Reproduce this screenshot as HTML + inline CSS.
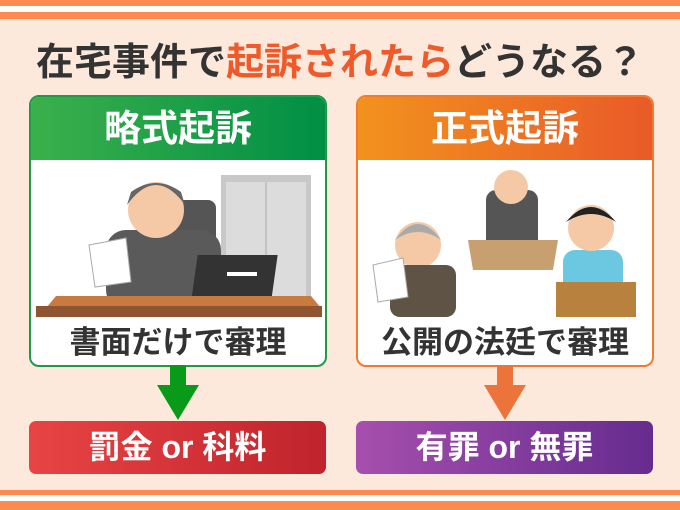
<!DOCTYPE html>
<html><head><meta charset="utf-8"><style>
body{margin:0;width:680px;height:510px;overflow:hidden;background:#fde8dc;font-family:"Liberation Sans","Noto Sans CJK JP",sans-serif;position:relative}
.a{position:absolute}
.t{font-weight:bold;text-align:center}
</style></head><body>
<div class="a" style="left:0;top:0;width:680px;height:6px;background:#ff8a50"></div>
<div class="a" style="left:0;top:12px;width:680px;height:7px;background:#ff8a50"></div>
<div class="a" style="left:0;top:6px;width:680px;height:6px;background:#fff"></div>
<div class="a" style="left:0;top:490px;width:680px;height:5px;background:#ff8a50"></div>
<div class="a" style="left:0;top:495px;width:680px;height:6px;background:#fff"></div>
<div class="a" style="left:0;top:501px;width:680px;height:9px;background:#ff8a50"></div>

<div class="a t" style="left:0;top:38px;width:680px;font-size:38px;line-height:50px;color:#333;white-space:nowrap">在宅事件で<span style="color:#ee5a2a">起訴されたら</span>どうなる？</div>

<!-- left box -->
<div class="a" style="left:29px;top:95px;width:294px;height:268px;border:2px solid #1e9a48;border-radius:10px;background:#fff;overflow:hidden">
 <div style="height:63px;background:linear-gradient(90deg,#3bb04c,#008f45);color:#fff;font-size:37px;font-weight:bold;text-align:center;line-height:63px">略式起訴</div>
 <svg width="294" height="157" style="display:block">
  <rect x="190" y="15" width="90" height="130" fill="#c8c8c8"/><rect x="195" y="22" width="80" height="115" fill="#dcdcdc"/><line x1="235" y1="22" x2="235" y2="137" stroke="#aaa"/>
  <rect x="145" y="40" width="40" height="80" rx="8" fill="#555"/>
  <rect x="75" y="70" width="115" height="80" rx="20" fill="#5a5a5a"/>
  <circle cx="125" cy="50" r="28" fill="#f5c9a5"/><path d="M96 45 Q125 5 154 45 L150 32 Q125 14 100 32Z" fill="#666"/>
  <polygon points="58,85 95,78 100,122 64,127" fill="#fff" stroke="#aaa"/>
  <rect x="180" y="95" width="80" height="50" fill="#333" transform="skewX(-8)"/><rect x="196" y="112" width="30" height="4" fill="#fff"/>
  <polygon points="15,148 290,148 280,136 25,136" fill="#c87a40"/>
  <rect x="5" y="146" width="286" height="11" fill="#8e5530"/>
 </svg>
 <div class="t" style="font-size:31px;line-height:44px;color:#333;margin-top:4px">書面だけで審理</div>
</div>
<div class="a" style="left:170px;top:365px;width:16px;height:22px;background:#0a9a1a"></div>
<div class="a" style="left:157px;top:385px;width:0;height:0;border-left:21px solid transparent;border-right:21px solid transparent;border-top:35px solid #0a9a1a"></div>
<div class="a t" style="left:29px;top:421px;width:297px;height:53px;border-radius:7px;background:linear-gradient(90deg,#e84444,#c0232d);color:#fff;font-size:32px;line-height:53px">罰金 or 科料</div>

<!-- right box -->
<div class="a" style="left:356px;top:95px;width:294px;height:268px;border:2px solid #f07a30;border-radius:10px;background:#fff;overflow:hidden">
 <div style="height:63px;background:linear-gradient(90deg,#f2921e,#e95a28);color:#fff;font-size:37px;font-weight:bold;text-align:center;line-height:63px">正式起訴</div>
 <svg width="294" height="157" style="display:block">
  <rect x="128" y="30" width="52" height="60" rx="10" fill="#555"/>
  <circle cx="153" cy="27" r="17" fill="#f5c9a5"/>
  <polygon points="110,80 200,80 195,110 115,110" fill="#c8a070"/>
  <circle cx="60" cy="85" r="23" fill="#f5c9a5"/><path d="M37 80 Q60 48 83 80 Q60 64 37 80Z" fill="#aaa"/>
  <rect x="32" y="105" width="66" height="52" rx="10" fill="#5f5346"/>
  <polygon points="15,105 45,98 50,137 20,142" fill="#fff" stroke="#aaa"/>
  <rect x="205" y="90" width="60" height="45" rx="12" fill="#6cc8e0"/>
  <circle cx="233" cy="68" r="23" fill="#f5c9a5"/><path d="M208 62 Q233 32 258 62 Q233 46 208 62Z" fill="#222"/>
  <rect x="198" y="122" width="80" height="35" fill="#b8813e"/>
 </svg>
 <div class="t" style="font-size:31px;line-height:44px;color:#333;margin-top:4px">公開の法廷で審理</div>
</div>
<div class="a" style="left:497px;top:365px;width:16px;height:22px;background:#ec733a"></div>
<div class="a" style="left:484px;top:385px;width:0;height:0;border-left:21px solid transparent;border-right:21px solid transparent;border-top:35px solid #ec733a"></div>
<div class="a t" style="left:356px;top:421px;width:297px;height:53px;border-radius:7px;background:linear-gradient(90deg,#a64fae,#652c8e);color:#fff;font-size:32px;line-height:53px">有罪 or 無罪</div>
</body></html>
